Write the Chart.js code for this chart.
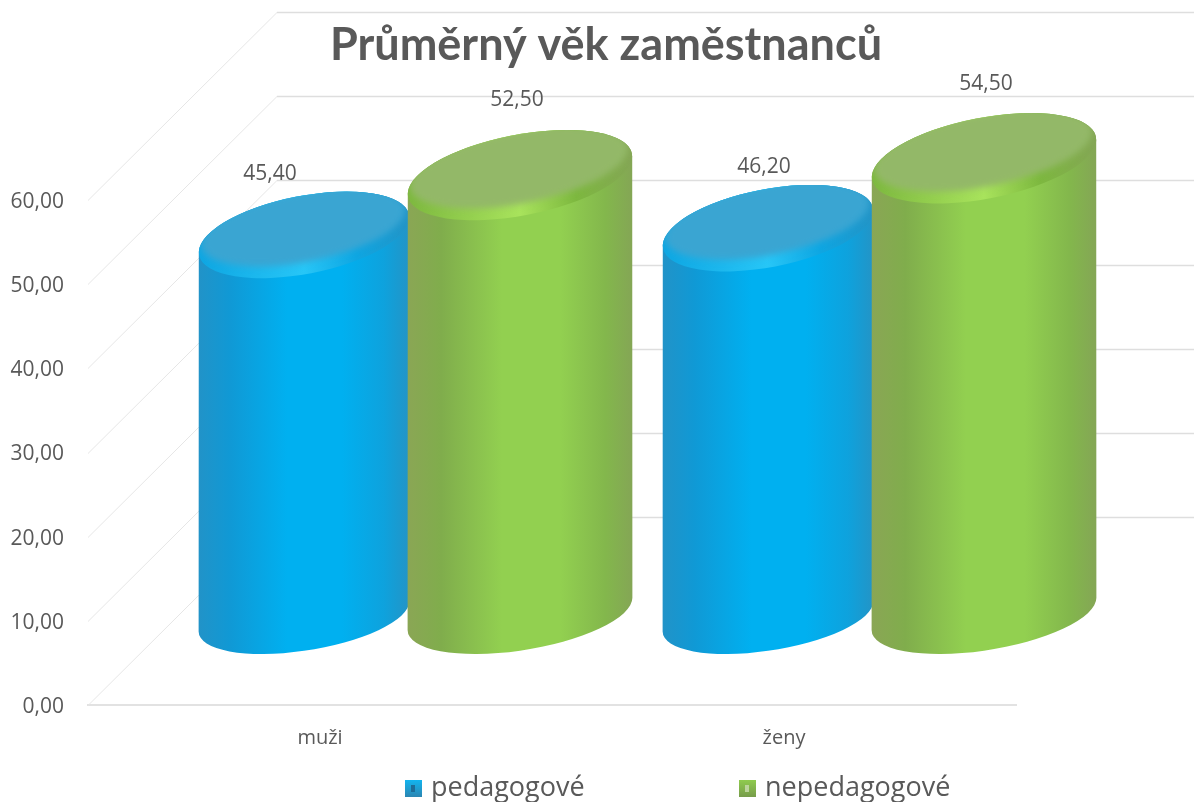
<!DOCTYPE html>
<html>
<head>
<meta charset="utf-8">
<title>Průměrný věk zaměstnanců</title>
<script src="https://cdn.jsdelivr.net/npm/chart.js@4/dist/chart.umd.min.js"></script>
<style>
    html, body { margin: 0; padding: 0; background: #fff; overflow: hidden; }
    canvas { display: block; }
</style>
</head>
<body>
<canvas id="age-chart" width="1194" height="802"></canvas>
<script>
// Chart data
const chartTitle = 'Průměrný věk zaměstnanců';
const categories = ['muži', 'ženy'];
const seriesNames = ['pedagogové', 'nepedagogové'];
const pedagogove = [45.4, 46.2];
const nepedagogove = [52.5, 54.5];

const textColor = '#595959';
const gridColor = '#dedede';
const fontFamily = '"Open Sans", sans-serif';

// Colours of the fake 3D cylinders
const blueLook = {
    stops: ['#2193c8', '#1099d5', '#00b0f0', '#00b0f0', '#0ea2dd', '#2394c6'],
    cap: '#3aa5d2', rim: '#0ea6e2', shine: '#27c6f7',
    markerTop: '#12b4ef', markerBottom: '#2b86b2', markerMid: '#1c6c98',
    widthFactor: 0.975, capRatio: 0.37, labelGap: 18, labelShift: [-34, -4]
};
const greenLook = {
    stops: ['#8aa655', '#80ad4c', '#92d050', '#92d050', '#83b74c', '#84a655'],
    cap: '#93b868', rim: '#7db83f', shine: '#a8e35c',
    markerTop: '#8fcb4e', markerBottom: '#779c4b', markerMid: '#bcd49c',
    widthFactor: 1.04, capRatio: 0.36, labelGap: 29.5, labelShift: [-3, 2]
};
const looks = [blueLook, greenLook];

const depthX = 189;      // how far the back wall sits from the front axis
const depthY = 188;
const barShiftX = 92;    // cylinders stand halfway into the floor
const barShiftY = 91;

function formatValue(v) {
    return v.toFixed(2).replace('.', ',');
}

function halfHeight(e) {
    return Math.sqrt(Math.pow(e.a * Math.sin(e.rot), 2) + Math.pow(e.b * Math.cos(e.rot), 2));
}

function tangentAngle(e) {
    return Math.atan(-(e.b / e.a) * Math.tan(e.rot));
}

function cylinderShape(el, look) {
    const w = (el.width / 2) * look.widthFactor;
    const top = { x: el.x + barShiftX, y: el.y - barShiftY + 3, a: w * 1.015, b: w * look.capRatio, rot: -0.19 };
    const bottom = { x: top.x, y: el.base - barShiftY, a: w * 1.012, b: w * 0.324, rot: -0.158 };
    bottom.y += 40 - halfHeight(bottom);
    return { w, top, bottom };
}

function drawCylinder(ctx, el, look) {
    const { w, top, bottom } = cylinderShape(el, look);
    const t0 = tangentAngle(top);
    const t1 = tangentAngle(bottom);

    // body
    const grad = ctx.createLinearGradient(top.x - w, 0, top.x + w, 0);
    const offsets = [0, 0.15, 0.42, 0.68, 0.88, 1];
    look.stops.forEach((c, i) => grad.addColorStop(offsets[i], c));
    ctx.save();
    ctx.beginPath();
    ctx.ellipse(top.x, top.y, top.a, top.b, top.rot, t0 + Math.PI, t0, false);
    ctx.ellipse(bottom.x, bottom.y, bottom.a, bottom.b, bottom.rot, t1, t1 + Math.PI, false);
    ctx.closePath();
    ctx.fillStyle = grad;
    ctx.fill();

    // cap with its rim, the rim is brightest under the middle of the cap
    const rimGrad = ctx.createLinearGradient(top.x - w, 0, top.x + w, 0);
    rimGrad.addColorStop(0, look.rim);
    rimGrad.addColorStop(0.5, look.shine);
    rimGrad.addColorStop(0.75, look.rim);
    rimGrad.addColorStop(1, look.stops[5]);
    ctx.beginPath();
    ctx.ellipse(top.x, top.y, top.a, top.b, top.rot, 0, Math.PI * 2);
    ctx.fillStyle = rimGrad;
    ctx.fill();
    ctx.clip();

    ctx.filter = 'blur(3px)';
    ctx.beginPath();
    ctx.ellipse(top.x - 1, top.y - 8, top.a * 0.97, top.b * 0.9, top.rot, 0, Math.PI * 2);
    ctx.fillStyle = look.cap;
    ctx.fill();
    ctx.restore();
}

function drawMarker(ctx, x, y, look) {
    const size = 17;
    const grad = ctx.createLinearGradient(0, y, 0, y + size);
    grad.addColorStop(0, look.markerTop);
    grad.addColorStop(1, look.markerBottom);
    ctx.fillStyle = grad;
    ctx.fillRect(x, y, size, size);
    ctx.fillStyle = look.markerMid;
    ctx.fillRect(x + 6, y + 5, 4, 7);
}

// Walls, cylinders, value labels and the legend are all drawn here
const cylinderPlugin = {
    id: 'cylinders',
    afterLayout(chart) {
        chart.titleBlock.left += 98;
        chart.titleBlock.right += 98;
    },
    beforeDatasetsDraw(chart) {
        const { ctx, scales: { x, y } } = chart;
        ctx.save();
        y.ticks.forEach(t => {
            const py = Math.round(y.getPixelForValue(t.value)) + 0.5;
            // side wall, fainter than the back wall
            ctx.strokeStyle = '#e6e6e6';
            ctx.lineWidth = 1;
            ctx.beginPath();
            ctx.moveTo(x.left, py);
            ctx.lineTo(x.left + depthX, py - depthY);
            ctx.stroke();
            ctx.strokeStyle = gridColor;
            ctx.lineWidth = 1.3;
            ctx.beginPath();
            ctx.moveTo(x.left + depthX, py - depthY);
            ctx.lineTo(chart.width, py - depthY);
            ctx.stroke();
        });
        ctx.restore();
    },
    beforeDatasetDraw() {
        return false;   // the plain bars are replaced by cylinders below
    },
    afterDatasetsDraw(chart) {
        chart.data.datasets.forEach((ds, i) => {
            chart.getDatasetMeta(i).data.forEach(el => drawCylinder(chart.ctx, el, looks[i]));
        });
    },
    afterDraw(chart) {
        const ctx = chart.ctx;
        ctx.save();
        ctx.fillStyle = textColor;
        ctx.textAlign = 'center';
        ctx.textBaseline = 'middle';
        ctx.font = '21px ' + fontFamily;
        chart.data.datasets.forEach((ds, i) => {
            chart.getDatasetMeta(i).data.forEach((el, j) => {
                const { top } = cylinderShape(el, looks[i]);
                ctx.fillText(formatValue(ds.data[j]), top.x + looks[i].labelShift[j], top.y - halfHeight(top) - looks[i].labelGap);
            });
        });

        // legend
        const legendX = [405, 739];
        ctx.textAlign = 'left';
        ctx.textBaseline = 'alphabetic';
        ctx.font = '27px ' + fontFamily;
        seriesNames.forEach((name, i) => {
            drawMarker(ctx, legendX[i], 780, looks[i]);
            ctx.fillStyle = textColor;
            ctx.fillText(name, legendX[i] + 26, 796);
        });
        ctx.restore();
    }
};

const chart = new Chart(document.getElementById('age-chart').getContext('2d'), {
    type: 'bar',
    data: {
        labels: categories,
        datasets: [
            { label: seriesNames[0], data: pedagogove, backgroundColor: '#00b0f0' },
            { label: seriesNames[1], data: nepedagogove, backgroundColor: '#92d050' }
        ]
    },
    options: {
        responsive: false,
        animation: false,
        layout: { padding: { right: 178 } },
        datasets: { bar: { barPercentage: 1, categoryPercentage: 432 / 464 } },
        plugins: {
            legend: { display: false },
            tooltip: { enabled: false },
            title: {
                display: true,
                text: chartTitle,
                color: textColor,
                font: { family: 'Lato, "Open Sans", sans-serif', size: 45, weight: 'bold' },
                padding: { top: 18, bottom: 128 }
            }
        },
        scales: {
            x: {
                grid: { display: false, drawTicks: false },
                border: { display: true, color: '#e2e2e2', width: 2 },
                ticks: { color: textColor, font: { family: fontFamily, size: 20 }, padding: 21 },
                afterFit(scale) { scale.height = 97; }
            },
            y: {
                min: 0,
                max: 60,
                grid: { display: false, drawTicks: false },
                border: { display: false },
                ticks: {
                    stepSize: 10,
                    color: textColor,
                    font: { family: fontFamily, size: 21 },
                    padding: 24,
                    labelOffset: 2,
                    callback: v => formatValue(v)
                },
                afterFit(scale) { scale.width = 88; }
            }
        }
    },
    plugins: [cylinderPlugin]
});
</script>
</body>
</html>
